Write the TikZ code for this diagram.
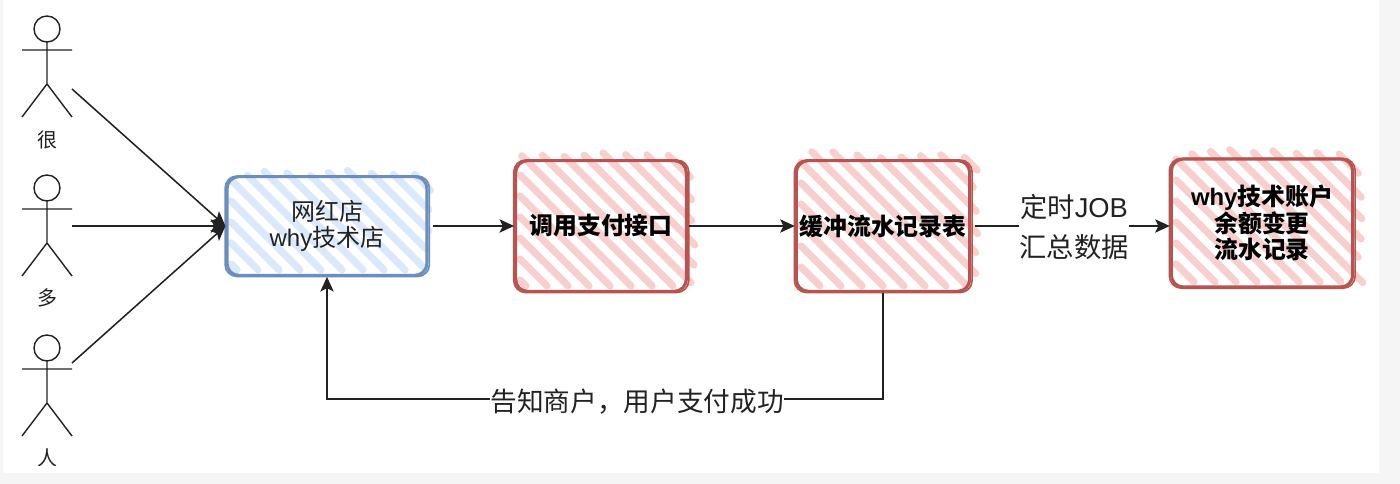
\documentclass[tikz,border=0pt]{standalone}
\usepackage{fontspec}
\setmainfont{Liberation Sans}
\newfontfamily\cjk{Noto Sans CJK SC}
\usetikzlibrary{arrows.meta}
\definecolor{pinkfill}{HTML}{F8CFCD}
\definecolor{pinkline}{HTML}{B85450}
\definecolor{bluefill}{HTML}{DAE8FC}
\definecolor{blueline}{HTML}{6C8EBF}
\definecolor{ink}{HTML}{222222}
\definecolor{pagegrey}{HTML}{F5F5F5}
\tikzset{
  sketchbox/.style={rounded corners=9pt,line width=2.3pt,inner sep=0pt,align=center},
  redbox/.style={sketchbox,draw=pinkline,font=\cjk\bfseries\fontsize{17.9}{20}\selectfont,text=black},
  bluebox/.style={sketchbox,draw=blueline,font=\cjk\fontsize{18}{20}\selectfont,text=ink},
  rough/.style={rounded corners=9pt,line width=1.2pt},
  flow/.style={draw=ink,line width=1.15pt,-{Stealth[length=11pt,width=10pt,inset=2.5pt]}},
  actorline/.style={draw=ink,line width=1.05pt},
  actorlabel/.style={font=\cjk\fontsize{15}{17}\selectfont,text=ink,inner sep=0pt},
  edgelabel/.style={fill=white,font=\cjk\fontsize{20.5}{30}\selectfont,text=ink,align=center,inner sep=0pt},
  actor/.pic={
    \draw[actorline] (0,0) circle[radius=13];
    \draw[actorline] (0,13) -- (0,55) (-25,21) -- (25,21) (-25,88) -- (0,55) -- (25,88);
  }
}
% hatch strokes from upper left to lower right; ends on the top and right edges run past the box
\newcommand{\hatchfill}[5]{% colour, x1, y1, x2, y2
  \foreach \c in {-600,-579,...,1400}{
    \pgfmathsetmacro{\ya}{max(#3,#2-\c)}
    \pgfmathsetmacro{\yb}{min(#5,#4-\c)}
    \pgfmathparse{\yb-\ya>3?1:0}
    \ifnum\pgfmathresult=1
      \pgfmathsetmacro{\ja}{\ya==#3 ? -rnd*7 : 0}
      \pgfmathsetmacro{\jb}{\yb<#5 ? rnd*5 : 0}
      \draw[#1,line width=5.3pt,line cap=round]
        ({\ya+\c+\ja},{\ya+\ja}) -- ({\yb+\c+\jb},{\yb+\jb});
    \fi
  }
}
% second, slightly displaced stroke over a box outline
\newcommand{\roughen}[2]{% node, colour
  \draw[rough,#2] ([shift={(-0.4,0.9)}]#1.north west) rectangle ([shift={(0.9,-0.3)}]#1.south east);
}
\begin{document}
\begin{tikzpicture}[x=0.75pt,y=-0.75pt]
\pgfmathsetseed{41}
\useasboundingbox (0,0) rectangle (1400,484);
\fill[pagegrey] (0,0) rectangle (1400,484);
\fill[white] (3,0) rectangle (1379,473);

% actors
\pic at (47,29) {actor};
\pic at (47,188) {actor};
\pic at (47,348) {actor};
\node[actorlabel] (l1) at (47,140) {很};
\node[actorlabel] (l2) at (47,298) {多};
\begin{scope}
  \clip (0,440) rectangle (100,466);
  \node[actorlabel] (l3) at (47,458) {人};
\end{scope}
\coordinate (s1) at (72,89);
\coordinate (s2) at (72,226);
\coordinate (s3) at (72,363);

% hatching
\hatchfill{bluefill}{231}{176}{426}{270}
\hatchfill{pinkfill}{520}{158}{690}{286}
\hatchfill{pinkfill}{801}{158}{973}{286}
\hatchfill{pinkfill}{1176}{156}{1358}{282}

% boxes
\node[bluebox,minimum width=150pt,minimum height=74pt] (shop) at (327,226)
  {网红店\\{\fontspec{Liberation Sans}why}技术店};
\node[redbox,minimum width=128pt,minimum height=98pt] (pay) at (601,226) {调用支付接口};
\node[redbox,minimum width=130pt,minimum height=98pt] (buf) at (883,226) {缓冲流水记录表};
\node[redbox,minimum width=136pt,minimum height=96pt] (acct) at (1262,223)
  {{\fontspec{Liberation Sans}\bfseries why}技术账户\\余额变更\\流水记录};
\roughen{shop}{blueline}
\roughen{pay}{pinkline}
\roughen{buf}{pinkline}
\roughen{acct}{pinkline}

% connectors
\draw[flow] (s1) -- (shop.west);
\draw[flow] (s2) -- (shop.west);
\draw[flow] (s3) -- (shop.west);
\draw[flow,shorten <=3pt] (shop.east) -- (pay.west);
\draw[flow,shorten <=1pt] (pay.east) -- (buf.west);
\draw[flow,shorten <=3pt] (buf.east) -- (acct.west |- buf.east);
\node[edgelabel] (jobl) at (1074,227) {定时{\fontspec{Liberation Sans}JOB}\\汇总数据};
\coordinate (fb) at (637,399);
\draw[flow] (buf.south) |- (fb) -| (shop.south);
\node[edgelabel,font=\cjk\fontsize{20}{30}\selectfont] (notify) at (637,402) {告知商户，用户支付成功};
\end{tikzpicture}
\end{document}
